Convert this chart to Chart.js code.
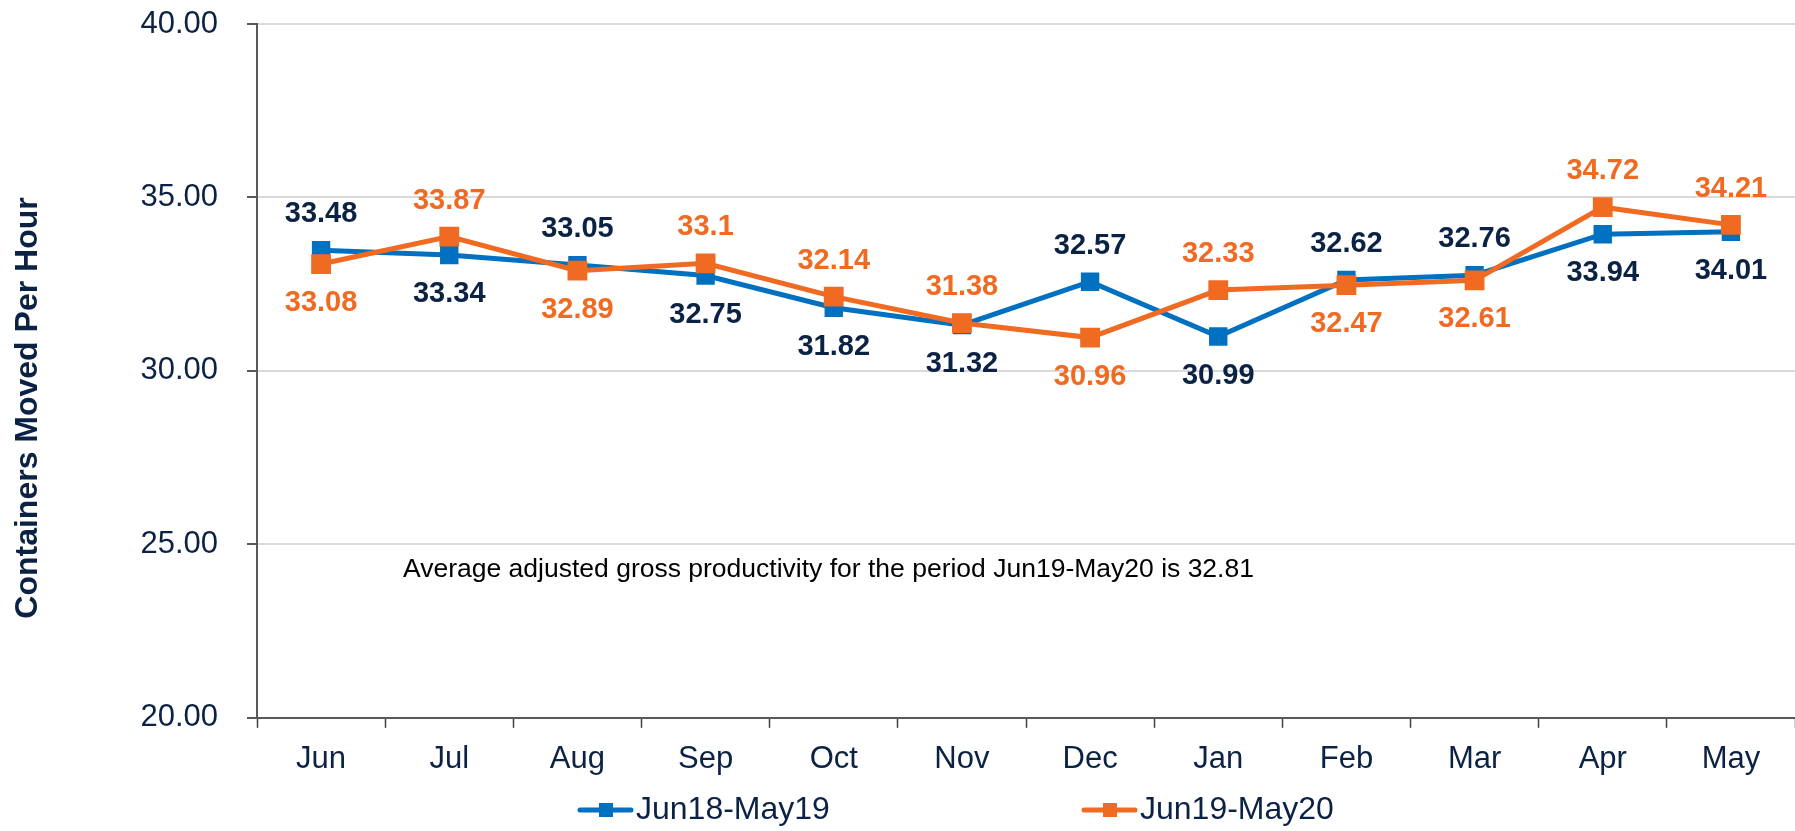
<!DOCTYPE html>
<html>
<head>
<meta charset="utf-8">
<script src="https://cdn.jsdelivr.net/npm/chart.js@4.4.1/dist/chart.umd.min.js"></script>
<style>
  html, body { margin: 0; padding: 0; background: #fff; }
</style>
</head>
<body>
<canvas id="chart" width="1795" height="831"></canvas>
<script>
// chart data
const months = ['Jun', 'Jul', 'Aug', 'Sep', 'Oct', 'Nov', 'Dec', 'Jan', 'Feb', 'Mar', 'Apr', 'May'];
const seriesNames = ['Jun18-May19', 'Jun19-May20'];
const prevYear = [33.48, 33.34, 33.05, 32.75, 31.82, 31.32, 32.57, 30.99, 32.62, 32.76, 33.94, 34.01];
const currYear = [33.08, 33.87, 32.89, 33.1, 32.14, 31.38, 30.96, 32.33, 32.47, 32.61, 34.72, 34.21];
const yMin = 20, yMax = 40, yStep = 5;
const axisTitle = 'Containers Moved Per Hour';
const noteText = 'Average adjusted gross productivity for the period Jun19-May20 is 32.81';

const NAVY = '#0B2244';
const BLUE = '#0070C0';
const ORANGE = '#F06A22';
const FONT = '"Liberation Sans", Arial, sans-serif';

// values above / below the markers
const pointLabels = {
  id: 'pointLabels',
  afterDatasetsDraw(chart) {
    const ctx = chart.ctx;
    const sets = chart.data.datasets;
    ctx.save();
    ctx.font = 'bold 29px ' + FONT;
    ctx.textAlign = 'center';
    ctx.textBaseline = 'middle';
    sets.forEach((ds, i) => {
      const other = sets[1 - i].data;
      chart.getDatasetMeta(i).data.forEach((pt, j) => {
        const above = ds.data[j] >= other[j];
        ctx.fillStyle = ds.labelColor;
        ctx.fillText(String(ds.data[j]), pt.x, pt.y + (above ? -36 : 39));
      });
    });
    ctx.restore();
  }
};

// y title, note text and legend
const extras = {
  id: 'extras',
  afterDraw(chart) {
    const ctx = chart.ctx;
    const area = chart.chartArea;
    const y = chart.scales.y;
    ctx.save();

    ctx.fillStyle = NAVY;
    ctx.font = 'bold 32px ' + FONT;
    ctx.textAlign = 'center';
    ctx.textBaseline = 'middle';
    ctx.translate(28, area.top + 384);
    ctx.rotate(-Math.PI / 2);
    ctx.fillText(axisTitle, 0, 0);
    ctx.setTransform(1, 0, 0, 1, 0, 0);

    ctx.fillStyle = '#000';
    ctx.font = '26.5px ' + FONT;
    ctx.textAlign = 'left';
    ctx.fillText(noteText, area.left + 146, y.getPixelForValue(24.28));

    const legendX = [578, 1082];
    const legendY = 810;
    chart.data.datasets.forEach((ds) => {
      const x = legendX[ds.legendSlot];
      ctx.strokeStyle = ds.borderColor;
      ctx.lineWidth = 5;
      ctx.lineCap = 'round';
      ctx.beginPath();
      ctx.moveTo(x + 2, legendY);
      ctx.lineTo(x + 53, legendY);
      ctx.stroke();
      ctx.fillStyle = ds.borderColor;
      ctx.fillRect(x + 21, legendY - 7, 14, 14);
      ctx.fillStyle = NAVY;
      ctx.font = '32px ' + FONT;
      ctx.fillText(ds.label, x + 58, legendY);
    });
    ctx.restore();
  }
};

new Chart(document.getElementById('chart'), {
  type: 'line',
  data: {
    labels: months,
    datasets: [
      {
        label: seriesNames[0],
        data: prevYear,
        borderColor: BLUE,
        backgroundColor: BLUE,
        labelColor: NAVY,
        legendSlot: 0,
        borderWidth: 5,
        pointStyle: 'rect',
        pointRadius: 13,
        pointBorderWidth: 0,
        tension: 0,
        order: 1
      },
      {
        label: seriesNames[1],
        data: currYear,
        borderColor: ORANGE,
        backgroundColor: ORANGE,
        labelColor: ORANGE,
        legendSlot: 1,
        borderWidth: 5,
        pointStyle: 'rect',
        pointRadius: 14,
        pointBorderWidth: 0,
        tension: 0,
        order: 0
      }
    ]
  },
  options: {
    responsive: false,
    animation: false,
    layout: { autoPadding: false, padding: { top: 24, bottom: 40, left: 0, right: 0 } },
    plugins: {
      legend: { display: false },
      tooltip: { enabled: false }
    },
    scales: {
      x: {
        offset: true,
        grid: {
          offset: true,
          drawOnChartArea: false,
          tickLength: 10,
          tickColor: '#404040',
          tickWidth: 1.5
        },
        border: { color: '#595959', width: 2 },
        ticks: {
          color: NAVY,
          font: { family: FONT, size: 31 },
          padding: 13,
          maxRotation: 0
        }
      },
      y: {
        min: yMin,
        max: yMax,
        afterFit(scale) {
          scale.width = 257;
          scale.paddingTop = 0;
          scale.paddingBottom = 0;
        },
        grid: {
          color: '#DADADA',
          lineWidth: 2,
          tickLength: 10,
          tickColor: '#595959'
        },
        border: { color: '#595959', width: 2 },
        ticks: {
          stepSize: yStep,
          color: NAVY,
          font: { family: FONT, size: 31 },
          padding: 29,
          callback: (v) => Number(v).toFixed(2)
        }
      }
    }
  },
  plugins: [pointLabels, extras]
});
</script>
</body>
</html>
